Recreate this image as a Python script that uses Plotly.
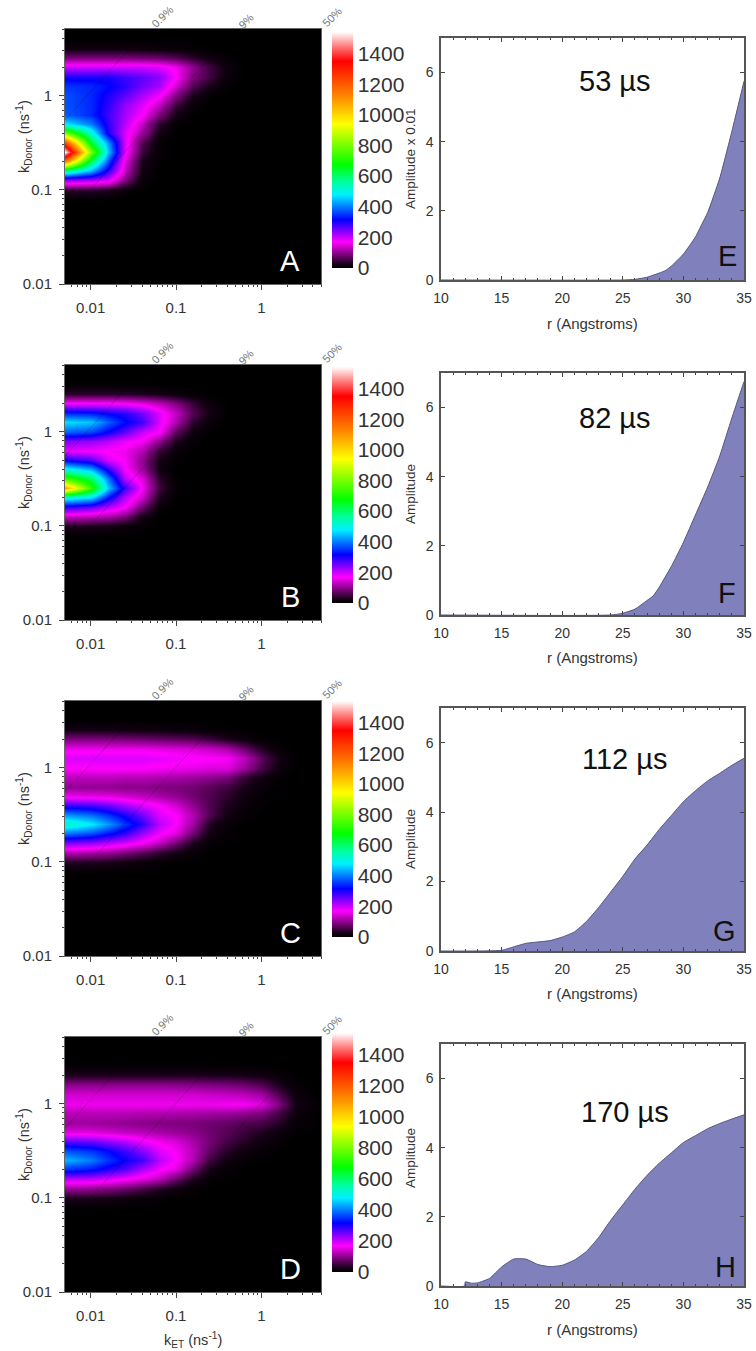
import plotly.graph_objects as go

W, H = 756, 1351

# ---- heat map data ----
k_et = [0.005, 0.01, 0.016, 0.025, 0.04, 0.063, 0.1, 0.16, 0.25, 0.4, 0.63, 1, 1.6, 2.5, 5]
k_donor = [0.01, 0.063, 0.079, 0.1, 0.126, 0.158, 0.2, 0.25, 0.316, 0.4, 0.5, 0.63, 0.79, 1,
           1.26, 1.58, 2, 2.5, 3.16, 4, 5]

# rows run from k_donor 0.079 upward; trailing zeros omitted
heat_a = [
    [3, 3, 2],
    [40, 40, 30, 10, 1],
    [230, 220, 190, 90, 8],
    [560, 430, 290, 130, 20, 1],
    [1150, 620, 370, 150, 25, 2],
    [1540, 800, 450, 180, 50, 5],
    [1250, 650, 420, 190, 60, 5],
    [800, 520, 300, 190, 110, 20],
    [480, 400, 290, 210, 130, 40, 5],
    [380, 340, 280, 220, 170, 90, 20, 2],
    [370, 340, 290, 230, 190, 130, 50, 8],
    [370, 340, 300, 260, 215, 175, 90, 25, 3],
    [350, 340, 320, 290, 250, 220, 140, 60, 25, 3],
    [300, 300, 300, 280, 260, 235, 170, 90, 50, 12, 1],
    [200, 200, 200, 200, 200, 190, 160, 100, 50, 15, 2],
    [90, 90, 90, 90, 85, 80, 65, 40, 20, 5],
    [20, 20, 20, 20, 18, 15, 12, 6, 2],
]
heat_b = [
    [3, 3, 2, 1],
    [30, 28, 22, 12, 3],
    [140, 130, 120, 90, 25, 2],
    [290, 260, 210, 170, 80, 10],
    [520, 480, 330, 210, 140, 30, 2],
    [1080, 720, 450, 280, 165, 50, 4],
    [760, 620, 400, 210, 150, 40, 3],
    [500, 430, 290, 170, 110, 20, 1],
    [310, 270, 190, 165, 100, 25, 3],
    [180, 175, 165, 160, 120, 45, 8],
    [240, 230, 210, 180, 165, 100, 30, 3],
    [380, 360, 310, 260, 200, 170, 70, 15, 1],
    [470, 450, 380, 320, 280, 190, 120, 40, 8],
    [340, 330, 310, 290, 250, 190, 130, 65, 20, 2],
    [170, 170, 170, 165, 150, 125, 90, 45, 12, 1],
    [40, 40, 40, 38, 32, 25, 15, 5, 1],
    [5, 5, 5, 4, 3, 2, 1],
]
heat_c = [
    [5, 5, 4, 2, 1],
    [35, 32, 28, 20, 12, 6, 2],
    [130, 120, 110, 90, 70, 45, 25, 8, 1],
    [240, 230, 210, 190, 165, 130, 80, 30, 6, 1],
    [400, 370, 330, 290, 230, 180, 150, 80, 20, 4],
    [530, 480, 420, 350, 290, 210, 170, 110, 30, 6],
    [420, 390, 350, 300, 250, 190, 170, 120, 60, 22, 6],
    [280, 270, 250, 220, 190, 170, 140, 100, 60, 30, 12, 2],
    [160, 155, 150, 140, 130, 115, 100, 80, 60, 40, 20, 5],
    [105, 100, 100, 95, 95, 90, 85, 80, 65, 50, 28, 10, 2],
    [130, 130, 130, 125, 125, 120, 115, 110, 100, 90, 45, 20, 5],
    [170, 170, 170, 170, 170, 165, 160, 155, 150, 150, 110, 60, 15, 2],
    [190, 190, 190, 190, 190, 185, 180, 175, 170, 165, 130, 70, 20, 2],
    [160, 160, 160, 160, 160, 155, 150, 145, 135, 120, 80, 35, 8],
    [90, 90, 88, 85, 80, 75, 70, 65, 50, 30, 15, 4],
    [25, 25, 24, 22, 20, 18, 15, 12, 8, 4, 1],
    [2, 2, 2, 2, 2, 1, 1, 1],
]
heat_d = [
    [4, 4, 3, 2, 1],
    [30, 28, 24, 18, 10, 5, 2],
    [110, 105, 95, 80, 60, 38, 20, 6, 1],
    [210, 205, 190, 170, 150, 125, 75, 30, 6, 1],
    [350, 330, 300, 270, 220, 180, 150, 80, 22, 5],
    [440, 400, 350, 310, 280, 210, 170, 120, 50, 18, 6, 1],
    [370, 350, 320, 280, 240, 190, 165, 125, 70, 35, 18, 6, 1],
    [260, 250, 230, 210, 180, 160, 145, 115, 80, 55, 35, 18, 6, 1],
    [150, 148, 140, 130, 125, 115, 105, 95, 80, 65, 48, 30, 15, 3],
    [110, 108, 105, 100, 95, 90, 88, 85, 78, 72, 62, 55, 35, 8],
    [125, 125, 125, 125, 122, 120, 118, 115, 112, 108, 100, 90, 55, 15],
    [160, 160, 160, 160, 160, 160, 160, 160, 160, 165, 165, 150, 90, 25],
    [140, 140, 140, 140, 140, 140, 140, 140, 135, 130, 125, 110, 60, 15],
    [100, 100, 100, 100, 100, 100, 98, 95, 92, 88, 80, 65, 30, 6],
    [30, 30, 30, 30, 30, 30, 30, 30, 28, 26, 24, 20, 10, 2],
    [5, 5, 5, 5, 5, 5, 5, 5, 4, 4, 3, 2, 1],
    [1, 1, 1, 1, 1, 1, 1, 1],
]

# ---- distance distributions ----
r_e = [10, 25, 26, 27, 28, 28.5, 29, 30, 31, 31.5, 32, 33, 34, 35]
amp_e = [0, 0, 0.02, 0.08, 0.2, 0.27, 0.4, 0.75, 1.25, 1.6, 1.95, 2.95, 4.3, 5.75]
r_f = [10, 24, 25, 26, 27, 27.5, 28, 28.5, 29, 30, 31, 32, 33, 34, 35]
amp_f = [0, 0, 0.05, 0.17, 0.42, 0.55, 0.8, 1.1, 1.4, 2.1, 2.9, 3.7, 4.6, 5.7, 6.75]
r_g = [10, 15, 16, 17, 18, 19, 20, 21, 22, 23, 24, 25, 26, 27, 28, 29, 30, 31, 32, 33, 34, 35]
amp_g = [0, 0.02, 0.12, 0.22, 0.26, 0.3, 0.4, 0.55, 0.85, 1.25, 1.7, 2.15, 2.65, 3.05, 3.5,
         3.9, 4.3, 4.62, 4.9, 5.12, 5.35, 5.55]
r_h = [10, 11.95, 12, 12.5, 13, 14, 15, 16, 17, 18, 19, 20, 21, 22, 23, 24, 25, 26, 27, 28, 29,
       30, 31, 32, 33, 34, 35]
amp_h = [0, 0, 0.12, 0.08, 0.09, 0.22, 0.55, 0.78, 0.78, 0.62, 0.56, 0.6, 0.75, 1.0, 1.4, 1.9,
         2.35, 2.8, 3.2, 3.55, 3.85, 4.15, 4.35, 4.55, 4.7, 4.83, 4.95]

fret_levels = [0.009, 0.09, 0.5]
fret_labels = ["0.9%", "9%", "50%"]
cbar_ticks = [0, 200, 400, 600, 800, 1000, 1200, 1400]
heat_letters = ["A", "B", "C", "D"]
dist_letters = ["E", "F", "G", "H"]
times = ["53 µs", "82 µs", "112 µs", "170 µs"]
amp_titles = ["Amplitude x 0.01", "Amplitude", "Amplitude", "Amplitude"]
minor_x = [0.006, 0.007, 0.008, 0.009, 0.02, 0.03, 0.04, 0.05, 0.06, 0.07, 0.08, 0.09,
           0.2, 0.3, 0.4, 0.5, 0.6, 0.7, 0.8, 0.9, 2, 3, 4, 5]
minor_y = [0.02, 0.03, 0.04, 0.05, 0.06, 0.07, 0.08, 0.09,
           0.2, 0.3, 0.4, 0.5, 0.6, 0.7, 0.8, 0.9, 2, 3, 4, 5]

# ---- layout in pixels ----
HEAT_X = (65, 321)
DIST_X = (441, 744)
heat_y = [(29, 284), (365, 620), (701, 956), (1037, 1292)]
dist_y = [(38, 280), (373, 615), (708, 951), (1044, 1286)]
bar_y = [(32, 268), (367, 603), (701, 937), (1033, 1272)]
time_xy = [(615, 81), (615, 418), (625, 759), (625, 1112)]
dist_letter_xy = [(727, 256), (727, 593), (724, 931), (725, 1267)]
amp_title_y = [159, 494, 839, 1158]

GRAY = "#444444"
FONT = "Liberation Sans"
STOPS = [(0, "#000000"), (25, "#150015"), (90, "#800080"), (170, "#ff00ff"), (215, "#b000ff"),
         (315, "#0000ff"), (478, "#00f0ff"), (560, "#00ffa0"), (675, "#00ff00"), (860, "#b0ff00"),
         (940, "#ffff00"), (1134, "#ff8000"), (1350, "#ff0000"), (1450, "#ff8080"), (1541, "#ffffff")]
scale = [[v / 1541, c] for v, c in STOPS]


def px(x):
    return x / W


def py(y):
    return 1 - y / H


annotations = []


def note(x, y, text, size, color="#222222", angle=0, **kw):
    annotations.append(dict(xref="paper", yref="paper", x=px(x), y=py(y), text=text, showarrow=False,
                            xanchor="center", yanchor="middle", textangle=angle,
                            font=dict(family=FONT, size=size, color=color), **kw))


fig = go.Figure()
layout = {}
heats = [heat_a, heat_b, heat_c, heat_d]
dists = [(r_e, amp_e), (r_f, amp_f), (r_g, amp_g), (r_h, amp_h)]


def full_grid(rows):
    ncol = len(k_et)
    padded = [list(r) + [0] * (ncol - len(r)) for r in rows]
    blank = [0] * ncol
    nrows_top = len(k_donor) - 2 - len(padded)
    return [blank, blank] + padded + [blank] * nrows_top


for i in range(4):
    # --- heat map panel ---
    n = 2 * i + 1
    xa, ya = f"x{n}", f"y{n}"
    top, bot = heat_y[i]
    fig.add_trace(go.Heatmap(
        x=k_et, y=k_donor, z=full_grid(heats[i]), xaxis=xa, yaxis=ya, zmin=0, zmax=1541,
        colorscale=scale, zsmooth="best", hoverinfo="skip",
        colorbar=dict(x=px(332), xanchor="left", y=py(bar_y[i][1]), yanchor="bottom",
                      len=bar_y[i][1] - bar_y[i][0], lenmode="pixels", thickness=21, thicknessmode="pixels",
                      xpad=0, ypad=0, outlinewidth=0, tickmode="array", tickvals=cbar_ticks,
                      ticks="", tickfont=dict(family=FONT, size=21, color="#333333"))))
    for e in fret_levels:
        kd = [0.08, 5]
        fig.add_trace(go.Scatter(x=[k * e / (1 - e) for k in kd], y=kd, xaxis=xa, yaxis=ya, mode="lines",
                                 line=dict(color="rgba(0,0,0,0.22)", width=1), hoverinfo="skip", showlegend=False))
    common = dict(type="log", showgrid=False, zeroline=False, showline=True, mirror=True, linecolor="#666666",
                  linewidth=1, ticks="outside", tickcolor=GRAY, ticklen=5, tickwidth=1,
                  tickmode="array", tickvals=[0.01, 0.1, 1], ticktext=["0.01", "0.1", "1"],
                  tickfont=dict(family=FONT, size=15, color="#333333"))
    minor = dict(ticks="outside", ticklen=2, tickcolor=GRAY, showgrid=False, tickmode="array")
    layout[f"xaxis{n}"] = dict(common, domain=[px(HEAT_X[0]), px(HEAT_X[1])], anchor=ya, range=[-2.301, 0.699],
                               ticklabelstandoff=5, minor=dict(minor, tickvals=minor_x))
    layout[f"yaxis{n}"] = dict(common, domain=[py(bot), py(top)], anchor=xa, range=[-2, 0.708],
                               ticklabelstandoff=4, minor=dict(minor, tickvals=minor_y))

    note(290, bot - 23, heat_letters[i], 29, color="#ffffff")
    note(24, bot - 147, "k<sub>Donor</sub> (ns<sup>-1</sup>)", 14.5, color="#333333", angle=-90)
    for fx, fy, lab in zip((162, 246, 332), (top - 12, top - 8, top - 12), fret_labels):
        note(fx, fy, lab, 11, color="#777777", angle=-45)

    # --- distance panel ---
    m = 2 * i + 2
    xa, ya = f"x{m}", f"y{m}"
    top, bot = dist_y[i]
    fig.add_trace(go.Scatter(x=dists[i][0], y=dists[i][1], xaxis=xa, yaxis=ya, mode="lines", fill="tozeroy",
                             fillcolor="#8080bd", line=dict(color="#55557f", width=1, shape="spline", smoothing=0.5),
                             hoverinfo="skip", showlegend=False))
    common = dict(showgrid=False, zeroline=False, showline=True, mirror="allticks", linecolor="#555555", linewidth=1.5,
                  ticks="inside", tickcolor=GRAY, ticklen=4, tickwidth=1,
                  tickfont=dict(family=FONT, size=14, color="#333333"))
    layout[f"xaxis{m}"] = dict(common, domain=[px(DIST_X[0]), px(DIST_X[1])], anchor=ya, range=[10, 35],
                               tickmode="array", tickvals=[10, 15, 20, 25, 30, 35], ticklabelstandoff=4,
                               minor=dict(ticks="inside", ticklen=2, dtick=1, tickcolor=GRAY, showgrid=False))
    layout[f"yaxis{m}"] = dict(common, domain=[py(bot), py(top)], anchor=xa, range=[0, 7],
                               tickmode="array", tickvals=[0, 2, 4, 6], ticklabelstandoff=3)

    note(time_xy[i][0], time_xy[i][1], times[i], 29, color="#111111")
    note(dist_letter_xy[i][0], dist_letter_xy[i][1], dist_letters[i], 29, color="#111111")
    note(592, bot + 43, "r (Angstroms)", 15, color="#333333")
    note(410, amp_title_y[i], amp_titles[i], 13.5, color="#333333", angle=-90)

note(193, 1340, "k<sub>ET</sub> (ns<sup>-1</sup>)", 14.5, color="#333333")

fig.update_layout(width=W, height=H, autosize=False, margin=dict(l=0, r=0, t=0, b=0, autoexpand=False),
                  showlegend=False, paper_bgcolor="white", plot_bgcolor="white", annotations=annotations, **layout)
fig.write_html("out.html", config=dict(displayModeBar=False),
               post_script="document.body.style.margin='0';document.body.style.overflow='hidden';")
